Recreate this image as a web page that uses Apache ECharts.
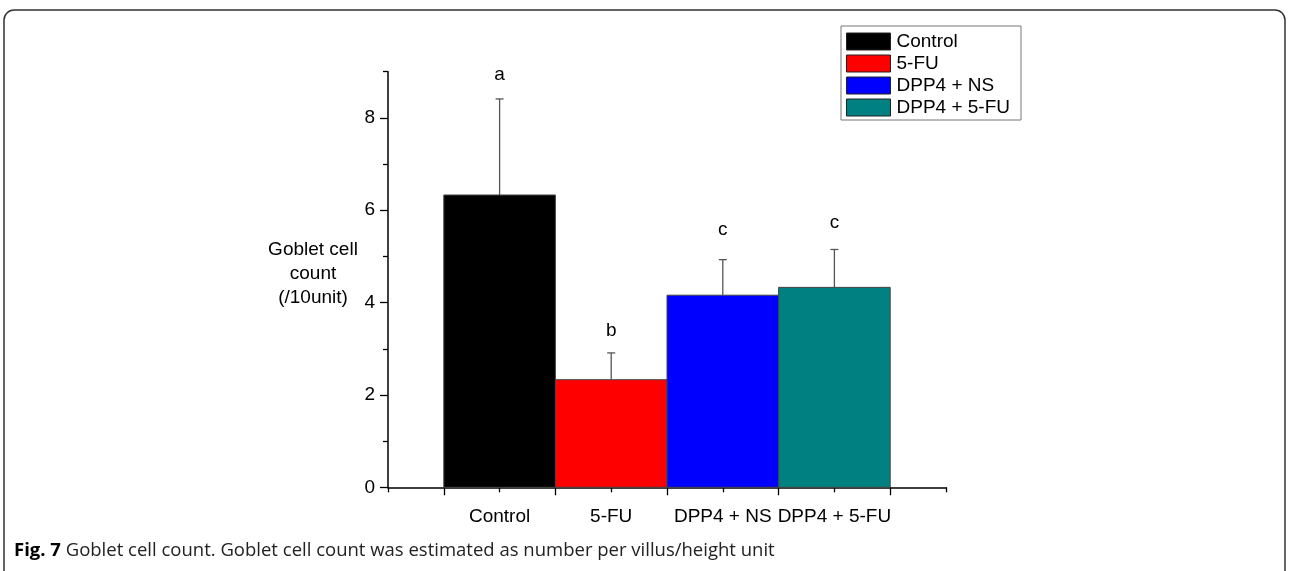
<!DOCTYPE html>
<html><head><meta charset="utf-8">
<script src="https://cdn.jsdelivr.net/npm/echarts@6/dist/echarts.min.js"></script>
<style>html,body{margin:0;padding:0;background:#fff}#c{width:1290px;height:571px}</style>
</head><body><div id="c"></div>
<script>
// ---- data ----
const categories = ['Control', '5-FU', 'DPP4 + NS', 'DPP4 + 5-FU'];
const positions = [2, 4, 6, 8];            // bar centres on the 0-10 x scale
const means = [6.33, 2.33, 4.16, 4.33];
const errors = [2.08, 0.58, 0.77, 0.82];   // upper error
const letters = ['a', 'b', 'c', 'c'];
const letterY = [8.94, 3.39, 5.57, 5.73];
const colors = ['#000000', '#ff0000', '#0000ff', '#008080'];
const yMajorTicks = [0, 2, 4, 6, 8];
const yMinorTicks = [1, 3, 5, 7, 9];
const xLongTicks = [1, 3, 5, 7, 9];
const xShortTicks = [0, 2, 4, 6, 8, 10];
const yAxisName = 'Goblet cell\ncount\n(/10unit)';
const captionBold = 'Fig. 7';
const captionText = ' Goblet cell count. Goblet cell count was estimated as number per villus/height unit';

const FONT = 'Liberation Sans, Arial, sans-serif';
const FS = 19;
const chart = echarts.init(document.getElementById('c'), null, {renderer: 'canvas'});

function renderBar(params, api) {
  const x = api.value(0), v = api.value(1), e = api.value(2), ly = api.value(4);
  const p0 = api.coord([x - 1, 0]);
  const p1 = api.coord([x + 1, v]);
  const top = api.coord([x, v + e]);
  const mid = api.coord([x, v]);
  const lp = api.coord([x, ly]);
  const color = api.visual('color');
  return {
    type: 'group',
    children: [
      {type: 'rect', shape: {x: p0[0], y: p1[1], width: p1[0] - p0[0], height: p0[1] - p1[1]},
       style: {fill: color, stroke: '#444', lineWidth: 1}},
      {type: 'line', shape: {x1: mid[0], y1: mid[1], x2: top[0], y2: top[1]},
       style: {stroke: '#555', lineWidth: 1.3}},
      {type: 'line', shape: {x1: top[0] - 4, y1: top[1], x2: top[0] + 4, y2: top[1]},
       style: {stroke: '#555', lineWidth: 1.3}},
      {type: 'text', x: lp[0], y: lp[1],
       style: {text: letters[params.seriesIndex], fill: '#000', font: FS + 'px ' + FONT, align: 'center', verticalAlign: 'middle'}}
    ]
  };
}

const series = categories.map((name, i) => ({
  name: name,
  type: 'custom',
  xAxisIndex: 0,
  yAxisIndex: 0,
  itemStyle: {color: colors[i]},
  encode: {x: 0, y: 1},
  data: [[positions[i], means[i], errors[i], i, letterY[i]]],
  renderItem: renderBar,
  z: 3
}));

chart.setOption({
  animation: false,
  backgroundColor: '#fff',
  grid: {left: 388, right: 344, top: 71.7, bottom: 83.7, containLabel: false},
  legend: {
    orient: 'vertical', left: 841, top: 26,
    icon: 'rect', itemWidth: 44, itemHeight: 17, itemGap: 3,
    padding: [6, 11, 3, 5],
    borderColor: '#777', borderWidth: 1,
    itemStyle: {borderColor: '#222', borderWidth: 1},
    textStyle: {fontSize: FS, color: '#000', fontFamily: FONT, padding: [0, 0, 0, 1]},
    data: categories
  },
  xAxis: [
    {type: 'value', min: 0, max: 10, interval: 1, position: 'bottom',
     axisLine: {show: true, lineStyle: {color: '#000', width: 1.5}},
     axisTick: {show: true, customValues: xLongTicks, length: 8, lineStyle: {color: '#000', width: 1.3}},
     axisLabel: {show: true, customValues: positions, margin: 20,
       formatter: v => categories[positions.indexOf(v)] || '',
       fontSize: FS, color: '#000', fontFamily: FONT},
     splitLine: {show: false}},
    {type: 'value', min: 0, max: 10, interval: 1, position: 'bottom',
     axisLine: {show: false},
     axisTick: {show: true, customValues: xShortTicks, length: 5, lineStyle: {color: '#000', width: 1.3}},
     axisLabel: {show: false}, splitLine: {show: false}}
  ],
  yAxis: [
    {type: 'value', min: 0, max: 9, interval: 1, position: 'left',
     axisLine: {show: true, lineStyle: {color: '#000', width: 1.5}},
     axisTick: {show: true, customValues: yMajorTicks, length: 8, lineStyle: {color: '#000', width: 1.3}},
     axisLabel: {show: true, customValues: yMajorTicks, margin: 13, fontSize: FS, color: '#000', fontFamily: FONT},
     splitLine: {show: false}},
    {type: 'value', min: 0, max: 9, interval: 1, position: 'left',
     axisLine: {show: false},
     axisTick: {show: true, customValues: yMinorTicks, length: 5, lineStyle: {color: '#000', width: 1.3}},
     axisLabel: {show: false}, splitLine: {show: false}}
  ],
  graphic: [
    {type: 'rect', shape: {x: 4, y: 10, width: 1281, height: 575, r: 10},
     style: {fill: 'none', stroke: '#333', lineWidth: 1.5}, silent: true},
    {type: 'text', x: 313, y: 274,
     style: {text: yAxisName, fill: '#000', font: FS + 'px ' + FONT, align: 'center', verticalAlign: 'middle', lineHeight: 24}},
    {type: 'text', x: 14, y: 551,
     style: {text: '{b|' + captionBold + '}{r|' + captionText + '}', verticalAlign: 'middle',
       rich: {
         b: {fontFamily: 'Open Sans, Lato, sans-serif', fontWeight: 'bold', fontSize: 18.5, fill: '#000'},
         r: {fontFamily: 'Open Sans, Lato, sans-serif', fontSize: 18.5, fill: '#222'}
       }}}
  ],
  series: series
});
</script>
</body></html>
